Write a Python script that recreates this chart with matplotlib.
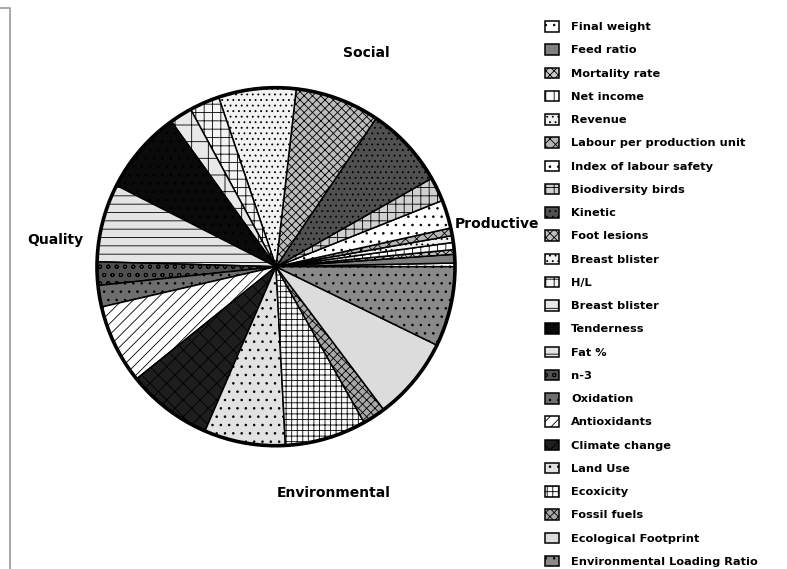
import numpy as np
import matplotlib
matplotlib.use("Agg")
import matplotlib.pyplot as plt
from matplotlib.patches import Circle

plt.rcParams['font.family'] = ['DejaVu Sans']
plt.rcParams['hatch.linewidth'] = 0.6

# indicator names (legend order, counter-clockwise from 3 o'clock)
labels = ["Final weight", "Feed ratio", "Mortality rate", "Net income", "Revenue",
          "Labour per production unit", "Index of labour safety", "Biodiversity birds",
          "Kinetic", "Foot lesions", "Breast blister", "H/L", "Breast blister",
          "Tenderness", "Fat %", "n-3", "Oxidation", "Antioxidants", "Climate change",
          "Land Use", "Ecoxicity", "Fossil fuels", "Ecological Footprint",
          "Environmental Loading Ratio"]

# weights (percent of the pie)
weights = [0.33, 0.78, 0.42, 0.64, 0.61, 0.69, 2.56, 2.19, 7.33, 7.64, 7.00, 2.72,
           2.03, 7.56, 7.06, 2.11, 1.94, 7.17, 7.72, 7.33, 7.36, 2.08, 7.50, 7.22]

groups = ["Social", "Productive", "Quality", "Environmental"]

faces = ["#ffffff", "#808080", "#c8c8c8", "#ffffff", "#f0f0f0", "#b4b4b4",
         "#ffffff", "#d0d0d0", "#505050", "#bdbdbd", "#f2f2f2", "#f4f4f4",
         "#e8e8e8", "#0a0a0a", "#e4e4e4", "#505050", "#6e6e6e", "#ffffff",
         "#1e1e1e", "#e2e2e2", "#fafafa", "#a8a8a8", "#dcdcdc", "#8a8a8a"]
hatches = ["..", "", "xxxx", "||", "...", "xxx", "..", "++", "...", "xxxx", "...", "++",
           "+", "..", "--", "oo", "..", "///", "xx", "..", "+++", "xxxx", "", ".."]

fig = plt.figure(figsize=(7.87, 5.69), dpi=100)
ax = fig.add_axes([0, 0, 1, 1])

H = 569
cx, cy, r = 276, H - 266.7, 179

wedges, _ = ax.pie(weights, center=(cx, cy), radius=r, startangle=0,
                   counterclock=True, frame=True,
                   wedgeprops=dict(edgecolor="black", linewidth=1.1))
for w, fc, h in zip(wedges, faces, hatches):
    w.set_facecolor(fc)
    w.set_hatch(h)

ax.add_patch(Circle((cx, cy), r, fill=False, edgecolor="black", linewidth=2.6, zorder=5))

ax.set_xlim(0, 787)
ax.set_ylim(0, H)
ax.set_aspect("equal")
ax.axis("off")

# group labels
ax.text(366, H - 53, groups[0], ha="center", va="center", fontsize=10, fontweight="bold")
ax.text(497, H - 224, groups[1], ha="center", va="center", fontsize=10, fontweight="bold")
ax.text(55, H - 240, groups[2], ha="center", va="center", fontsize=10, fontweight="bold")
ax.text(334, H - 493, groups[3], ha="center", va="center", fontsize=10, fontweight="bold")

# frame edge at left
ax.plot([0, 10, 10], [H - 8, H - 8, 0], color="#999999", linewidth=1.2)

fs = 8.2
px = fs * 100 / 72
leg = ax.legend(wedges, labels, loc="upper left",
                bbox_to_anchor=(545 / 787, 1 - 21 / H), frameon=False,
                borderaxespad=0, borderpad=0, fontsize=fs,
                handlelength=14 / px, handleheight=12 / px,
                handletextpad=12 / px, labelspacing=1.06,
                prop=dict(weight="bold", size=fs))

fig.savefig("out.png", dpi=100)
